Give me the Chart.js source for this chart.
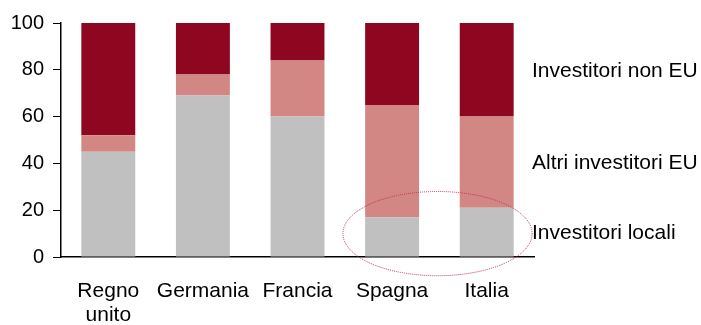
<!DOCTYPE html>
<html>
<head>
<meta charset="utf-8">
<script src="https://cdn.jsdelivr.net/npm/chart.js@4"></script>
<style>
  html, body { margin: 0; padding: 0; background: #fff; }
  #wrap { width: 701px; height: 325px; position: relative; }
</style>
</head>
<body>
<div id="wrap"><canvas id="chart"></canvas></div>
<script>
// ── Dati (quote % per tipo di investitore) ──
const paesi            = [['Regno', 'unito'], 'Germania', 'Francia', 'Spagna', 'Italia'];
const investLocali     = [45, 69, 60, 17, 21];
const altriEU          = [7, 9, 24, 48, 39];
const nonEU            = [48, 22, 16, 35, 40];
const yTicks           = [0, 20, 40, 60, 80, 100];

const FONT = 'Liberation Sans, Arial, sans-serif';

// etichette a destra, allineate al centro dei segmenti dell'ultima barra
const etichetteSerie = {
  id: 'etichetteSerie',
  afterDatasetsDraw(chart) {
    const { ctx, chartArea } = chart;
    ctx.save();
    ctx.font = `21px ${FONT}`;
    ctx.fillStyle = '#000';
    ctx.textAlign = 'left';
    ctx.textBaseline = 'middle';
    chart.data.datasets.forEach((ds, i) => {
      const meta = chart.getDatasetMeta(i);
      const bar = meta.data[meta.data.length - 1];
      ctx.fillText(ds.label, chartArea.right - 2, (bar.y + bar.base) / 2 + 1);
    });
    ctx.restore();
  }
};

// ellisse tratteggiata attorno a Spagna e Italia (parte bassa)
const ellisse = {
  id: 'ellisse',
  afterDatasetsDraw(chart) {
    const { ctx, scales: { x, y } } = chart;
    const cx = x.getPixelForValue(3.48);
    const cy = y.getPixelForValue(10);
    const rx = x.getPixelForValue(4.5) - x.getPixelForValue(3.5);
    const ry = y.getPixelForValue(0) - y.getPixelForValue(18);
    ctx.save();
    ctx.strokeStyle = '#c2314e';
    ctx.lineWidth = 1;
    ctx.setLineDash([1, 1]);
    ctx.beginPath();
    ctx.ellipse(cx, cy, rx, ry, 0, 0, Math.PI * 2);
    ctx.stroke();
    ctx.restore();
  }
};

new Chart(document.getElementById('chart'), {
  type: 'bar',
  data: {
    labels: paesi,
    datasets: [
      { label: 'Investitori locali',   data: investLocali, backgroundColor: '#c0c0c0' },
      { label: 'Altri investitori EU', data: altriEU,      backgroundColor: '#d38785' },
      { label: 'Investitori non EU',   data: nonEU,        backgroundColor: '#8e0620' }
    ]
  },
  options: {
    responsive: true, maintainAspectRatio: false, animation: false,
    layout: { padding: { top: 23, right: 167, left: 0, bottom: 0 } },
    datasets: { bar: { categoryPercentage: 1, barPercentage: 0.57, borderWidth: 0 } },
    plugins: { legend: { display: false }, tooltip: { enabled: false } },
    scales: {
      x: {
        stacked: true,
        grid: { display: false, drawTicks: false },
        border: { color: '#000', width: 1.5 },
        ticks: { color: '#000', font: { family: FONT, size: 21, lineHeight: 1.15 }, padding: 22, maxRotation: 0, autoSkip: false },
        afterFit(scale) { scale.height = 68; }
      },
      y: {
        stacked: true, min: 0, max: 100,
        afterBuildTicks(scale) { scale.ticks = yTicks.map(v => ({ value: v })); },
        grid: { display: true, drawOnChartArea: false, drawTicks: true, tickLength: 8, color: '#000', tickColor: '#000' },
        border: { color: '#000', width: 1.5 },
        ticks: { color: '#000', font: { family: FONT, size: 20 }, padding: 9 },
        afterFit(scale) { scale.width = 61; }
      }
    }
  },
  plugins: [etichetteSerie, ellisse]
});
</script>
</body>
</html>
